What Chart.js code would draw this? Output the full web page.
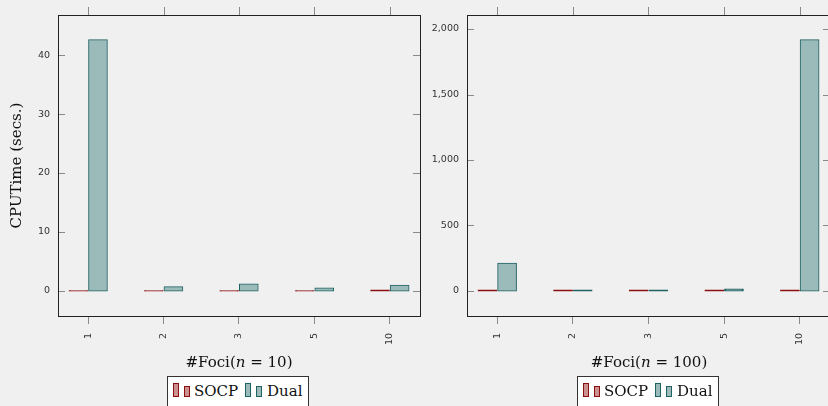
<!DOCTYPE html>
<html>
<head>
<meta charset="utf-8">
<script src="https://cdn.jsdelivr.net/npm/chart.js@4.4.1/dist/chart.umd.min.js"></script>
<style>
  body { margin: 0; width: 828px; height: 406px; overflow: hidden; background: #f0f0f0; position: relative; }
  canvas { position: absolute; top: 0; }
  .xtitle { position: absolute; top: 353px; width: 220px; text-align: center; font: 15px "DejaVu Serif", serif; line-height: 18px; color: #111; }
  .legend { position: absolute; top: 376px; width: 142px; height: 40px; background: #fff; border: 1px solid #333; box-sizing: border-box; }
  .legend span { position: absolute; }
  .sw { box-sizing: border-box; border: 1px solid; }
  .lt { font: 15px "DejaVu Serif", serif; color: #111; top: 5px; }
</style>
</head>
<body>
<canvas id="left" width="430" height="406" style="left:0"></canvas>
<canvas id="right" width="420" height="406" style="left:420px"></canvas>

<div class="xtitle" style="left:129px">#Foci(<i>n</i> = 10)</div>
<div class="xtitle" style="left:539px">#Foci(<i>n</i> = 100)</div>

<div class="legend" style="left:167px" id="legLeft"></div>
<div class="legend" style="left:577px" id="legRight"></div>

<script>
// categories (#Foci) and CPU time in seconds
const categories = ["1", "2", "3", "5", "10"];
const socpN10 = [0.05, 0.05, 0.05, 0.05, 0.15];
const dualN10 = [42.6, 0.73, 1.19, 0.5, 0.96];
const socpN100 = [8, 8, 8, 8, 8];
const dualN100 = [211, 8, 8, 15, 1918];

// tick values on the y axes
const yTicksN10 = [0, 10, 20, 30, 40];
const yTicksN100 = [0, 500, 1000, 1500, 2000];

const SOCP_FILL = "#cc9090", SOCP_LINE = "#8b0f0f";
const DUAL_FILL = "#9bbaba", DUAL_LINE = "#1f6262";

// very flat bars: the two outline strokes overlap, so the bar looks like a solid line
function thinFill(c, fill, line) {
    const y = c.chart.scales.y;
    if (!c.raw || !y) return fill;
    const h = Math.abs(y.getPixelForValue(c.raw.y) - y.getPixelForValue(0));
    return h < 2.5 ? line : fill;
}

// box around plot + inner/top tick marks
const frame = {
    id: "frame",
    afterDraw(chart) {
        const { ctx, chartArea: a, scales: { x, y } } = chart;
        ctx.save();
        ctx.strokeStyle = "#8a8a8a";
        ctx.lineWidth = 1;
        ctx.beginPath();
        x.ticks.forEach(t => {
            const px = Math.round(x.getPixelForValue(t.value)) + 0.5;
            ctx.moveTo(px, a.top - 8);
            ctx.lineTo(px, a.top);
        });
        y.ticks.forEach(t => {
            const py = Math.round(y.getPixelForValue(t.value)) + 0.5;
            ctx.moveTo(a.left, py);
            ctx.lineTo(a.left + 7, py);
            ctx.moveTo(a.right - 7, py);
            ctx.lineTo(a.right, py);
        });
        ctx.stroke();
        ctx.strokeStyle = "#222";
        ctx.strokeRect(Math.round(a.left) + 0.5, Math.round(a.top) + 0.5,
            Math.round(a.right - a.left), Math.round(a.bottom - a.top));
        ctx.restore();
    }
};

function points(arr) {
    return arr.map((v, i) => ({ x: i, y: v }));
}

function makeChart(id, socp, dual, yMin, yMax, yTicks, yWidth, showTitle) {
    const ctx = document.getElementById(id).getContext("2d");
    return new Chart(ctx, {
        type: "bar",
        data: {
            datasets: [{
                label: "SOCP",
                data: points(socp),
                backgroundColor: c => thinFill(c, SOCP_FILL, SOCP_LINE),
                borderColor: SOCP_LINE,
                borderWidth: 1,
                borderSkipped: false,
                inflateAmount: 0.5
            }, {
                label: "Dual",
                data: points(dual),
                backgroundColor: c => thinFill(c, DUAL_FILL, DUAL_LINE),
                borderColor: DUAL_LINE,
                borderWidth: 1,
                borderSkipped: false,
                inflateAmount: 0.5
            }]
        },
        options: {
            responsive: false,
            animation: false,
            devicePixelRatio: 1,
            categoryPercentage: 0.52,
            barPercentage: 0.95,
            layout: { padding: { top: 15, right: 10, bottom: 0, left: 0 } },
            plugins: { legend: { display: false }, tooltip: { enabled: false } },
            scales: {
                x: {
                    type: "linear",
                    offset: false,
                    min: -0.4,
                    max: 4.4,
                    afterBuildTicks: s => { s.ticks = categories.map((c, i) => ({ value: i })); },
                    afterFit: s => { s.height = 90; },
                    border: { display: false },
                    grid: { offset: false, drawOnChartArea: false, drawTicks: true, tickLength: 8, color: "#8a8a8a" },
                    ticks: {
                        autoSkip: false,
                        minRotation: 90,
                        maxRotation: 90,
                        padding: 9,
                        color: "#333",
                        font: { family: "DejaVu Sans", size: 9.5 },
                        callback: v => categories[v]
                    }
                },
                y: {
                    min: yMin,
                    max: yMax,
                    afterBuildTicks: s => { s.ticks = yTicks.map(v => ({ value: v })); },
                    afterFit: s => { s.width = yWidth; },
                    border: { display: false },
                    grid: { display: false, drawTicks: false },
                    ticks: {
                        padding: 8,
                        color: "#333",
                        font: { family: "DejaVu Sans", size: 9.5 },
                        callback: v => v.toLocaleString("en-US")
                    },
                    title: {
                        display: showTitle,
                        text: "CPUTime (secs.)",
                        color: "#111",
                        font: { family: "DejaVu Serif", size: 15 },
                        padding: { top: 8, bottom: 0 }
                    }
                }
            }
        },
        plugins: [frame]
    });
}

makeChart("left", socpN10, dualN10, -4.25, 46.8, yTicksN10, 58, true);
makeChart("right", socpN100, dualN100, -191, 2107, yTicksN100, 47, false);

// legend: two swatches per series, like the lattice key
function buildLegend(id) {
    const box = document.getElementById(id);
    const items = [
        { x: 5, fill: SOCP_FILL, line: SOCP_LINE, text: "SOCP", tx: 26 },
        { x: 77, fill: DUAL_FILL, line: DUAL_LINE, text: "Dual", tx: 99 }
    ];
    items.forEach(it => {
        box.innerHTML +=
            `<span class="sw" style="left:${it.x}px;top:6px;width:6px;height:14px;background:${it.fill};border-color:${it.line}"></span>` +
            `<span class="sw" style="left:${it.x + 11}px;top:9px;width:6px;height:11px;background:${it.fill};border-color:${it.line}"></span>` +
            `<span class="lt" style="left:${it.tx}px">${it.text}</span>`;
    });
}
buildLegend("legLeft");
buildLegend("legRight");
</script>
</body>
</html>
